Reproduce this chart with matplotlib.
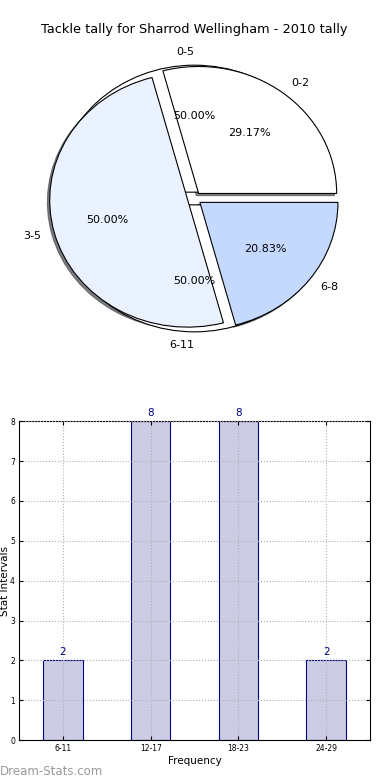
import matplotlib
matplotlib.use("Agg")
import matplotlib.pyplot as plt

# pie data
pie_labels = ["0-2", "3-5", "6-8"]
pie_values = [7, 12, 5]
pie_colors = ["#ffffff", "#eaf1ff", "#c5d9ff"]

half_labels = ["0-5", "6-11"]
half_values = [12, 12]

# bar data
bar_labels = ["6-11", "12-17", "18-23", "24-29"]
bar_values = [2, 8, 8, 2]

fig = plt.figure(figsize=(3.9, 7.8), dpi=100)

# --- pie ---
ax1 = fig.add_axes([0.056, 0.542, 0.885, 0.407])
wedges, texts, autotexts = ax1.pie(half_values, labels=half_labels,
                                   colors=["#ffffff", "#ffffff"],
                                   explode=[0.05, 0.05], autopct="%.2f%%",
                                   wedgeprops={"linewidth": 0.8, "edgecolor": "black"},
                                   textprops={"fontsize": 8})
texts[1].set_ha("right")
ax1.pie(pie_values, labels=pie_labels, colors=pie_colors,
        explode=[0.05, 0.05, 0.05], autopct="%.2f%%",
        shadow={"ox": -0.012, "oy": -0.012, "alpha": 0.7},
        wedgeprops={"linewidth": 0.8, "edgecolor": "black"},
        textprops={"fontsize": 8})
ax1.set_aspect("auto")
ax1.set_xlim(-1.25, 1.25)
ax1.set_ylim(-1.25, 1.25)
ax1.set_title("Tackle tally for Sharrod Wellingham - 2010 tally", fontsize=9.3, pad=5)

# --- bars ---
ax2 = fig.add_axes([0.049, 0.051, 0.9, 0.409])
x = range(len(bar_labels))
rects = ax2.bar(x, bar_values, width=0.45, color="#cccce5", edgecolor="#000080",
                linewidth=0.8, zorder=2)
for r in rects:
    h = r.get_height()
    ax2.text(r.get_x() + r.get_width() / 2, h + 0.08, str(int(h)), ha="center",
             va="bottom", color="#000080", fontsize=7.5)
ax2.set_xlim(-0.5, 3.5)
ax2.set_ylim(0, 8)
ax2.set_yticks(range(9))
ax2.set_xticks(list(x))
ax2.set_xticklabels(bar_labels)
ax2.tick_params(labelsize=5.5, direction="in", top=True, right=True, length=3, pad=3)
ax2.grid(True, linestyle=":", color="#b0b0b0", linewidth=0.8, zorder=3)
ax2.set_axisbelow(False)
ax2.set_xlabel("Frequency", fontsize=7.5, labelpad=2)
ax2.set_ylabel("Stat Intervals", fontsize=7.5)
ax2.yaxis.set_label_coords(-0.026, 0.5)

fig.text(0.0, 0.007, "Dream-Stats.com", color="#999999", fontsize=8.5, fontweight="medium")

fig.savefig("out.png", dpi=100)
